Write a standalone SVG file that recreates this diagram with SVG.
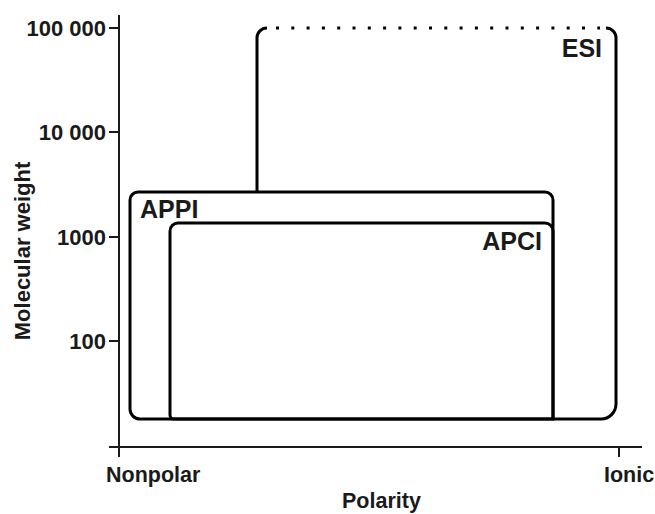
<svg xmlns="http://www.w3.org/2000/svg" width="655" height="514" viewBox="0 0 655 514">
<style>
.ax{stroke:#1a1a1a;stroke-width:2;fill:none}
.bx{stroke:#000;stroke-width:3;fill:none;stroke-linejoin:round}
.dot{stroke:#000;stroke-width:3;fill:none;stroke-dasharray:3 12.3}
text{font-family:"Liberation Sans",Arial,sans-serif;font-weight:bold;fill:#1a1a1a}
.tk{font-size:22px;text-anchor:end}
.al{font-size:21.5px}
.bl{font-size:25px}
</style>
<rect width="655" height="514" fill="#fff"/>
<g id="axes">
<path class="ax" d="M119,15 V457 M109,447 H642 M109,28 H119 M109,132 H119 M109,237 H119 M109,341 H119 M619,447 V457"/>
<text class="tk" x="106" y="36">100 000</text>
<text class="tk" x="106" y="140">10 000</text>
<text class="tk" x="106" y="245">1000</text>
<text class="tk" x="106" y="349">100</text>
<text class="al" x="106" y="482">Nonpolar</text>
<text class="al" x="604" y="482">Ionic</text>
<text class="al" x="342" y="508">Polarity</text>
<text class="al" style="font-size:22px" transform="translate(30,251) rotate(-90)" text-anchor="middle">Molecular weight</text>
</g>
<g id="esi">
<path class="bx" d="M257,192 V38 A10,10 0 0 1 267,28"/>
<path class="dot" d="M276,28 H600"/>
<path class="bx" d="M606,28 A10,10 0 0 1 616,38 V404 A15,15 0 0 1 601,419 H553"/>
<text class="bl" x="602" y="57" text-anchor="end">ESI</text>
</g>
<g id="appi">
<path class="bx" d="M130,200 A8,8 0 0 1 138,192 H545 A8,8 0 0 1 553,200 V419 H140 A10,10 0 0 1 130,409 Z"/>
<text class="bl" x="140" y="218">APPI</text>
</g>
<g id="apci">
<path class="bx" d="M170,231 A8,8 0 0 1 178,223 H545 A8,8 0 0 1 553,231 V419 H174 A4,4 0 0 1 170,415 Z"/>
<text class="bl" x="542" y="250" text-anchor="end">APCI</text>
</g>
</svg>
